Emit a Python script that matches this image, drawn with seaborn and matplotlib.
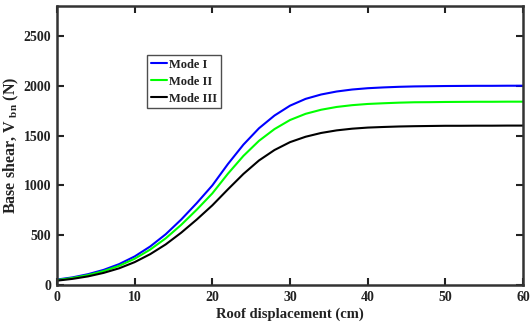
import numpy as np
import pandas as pd
import matplotlib
matplotlib.use("Agg")
import matplotlib.pyplot as plt
import seaborn as sns

disp = [0, 2, 4, 6, 8, 10, 12, 14, 16, 18, 20, 22, 24, 26, 28, 30,
        32, 34, 36, 38, 40, 42, 44, 46, 48, 50, 52, 54, 56, 58, 60]
mode1 = [55, 77, 109, 152, 210, 287, 387, 510, 658, 823, 1000, 1214, 1409, 1573, 1701, 1800,
         1868, 1912, 1942, 1962, 1975, 1983, 1989, 1993, 1995, 1997, 1998, 1999, 1999, 2000, 2000]
mode2 = [50, 71, 100, 140, 193, 264, 356, 469, 605, 757, 920, 1117, 1296, 1447, 1565, 1656,
         1718, 1759, 1787, 1805, 1817, 1824, 1830, 1834, 1835, 1837, 1838, 1839, 1839, 1840, 1840]
mode3 = [44, 62, 87, 122, 168, 230, 310, 408, 526, 658, 800, 960, 1115, 1250, 1355, 1434,
         1488, 1526, 1552, 1569, 1580, 1586, 1591, 1594, 1596, 1598, 1598, 1599, 1599, 1600, 1600]
labels = ["Mode I", "Mode II", "Mode III"]
colors = ["#0000ff", "#00ff00", "#000000"]

df = pd.concat([
    pd.DataFrame({"x": disp, "y": v, "mode": lab})
    for v, lab in zip([mode1, mode2, mode3], labels)
])

sns.set_style("ticks")
plt.rcParams["font.family"] = ["Liberation Serif", "DejaVu Serif"]
plt.rcParams["font.weight"] = "bold"
plt.rcParams["mathtext.fontset"] = "custom"
plt.rcParams["mathtext.rm"] = "Liberation Serif:bold"
plt.rcParams["mathtext.bf"] = "Liberation Serif:bold"

fig = plt.figure(figsize=(5.30, 3.33), dpi=100)
ax = fig.add_axes([0.1075, 0.144, 0.8795, 0.838])

sns.lineplot(data=df, x="x", y="y", hue="mode", palette=dict(zip(labels, colors)),
             linewidth=1.5, ax=ax, legend=True)

ax.set_xlim(0, 60)
ax.set_ylim(0, 2800)
ax.set_xticks([0, 10, 20, 30, 40, 50, 60])
ax.set_yticks([0, 500, 1000, 1500, 2000, 2500])
ax.tick_params(direction="in", length=5, width=1.5, top=True, right=True,
               labelsize=10, pad=4, colors="#222222", labelcolor="#222222")
for lab in ax.get_xticklabels() + ax.get_yticklabels():
    lab.set_fontweight("bold")
for s in ax.spines.values():
    s.set_linewidth(1.8)
    s.set_color("#333333")
    s.set_visible(True)

ax.set_xlabel("Roof displacement (cm)", fontsize=10.5, fontweight="bold", labelpad=3, color="#222222")
ax.set_ylabel(r"Base shear, V$_{\mathrm{\ bn}}$ (N)", fontsize=11.5, fontweight="bold", labelpad=2, color="#222222")

leg = ax.legend(loc="upper left", bbox_to_anchor=(0.193, 0.825), frameon=True, fancybox=False,
                prop={"weight": "bold", "size": 9}, handlelength=1.3, handletextpad=0.2,
                borderpad=0.3, labelspacing=0.4, borderaxespad=0)
leg.get_frame().set_edgecolor("#222222")
leg.get_frame().set_linewidth(1.0)
for t in leg.get_texts():
    t.set_color("#222222")

fig.savefig("out.png", dpi=100)
